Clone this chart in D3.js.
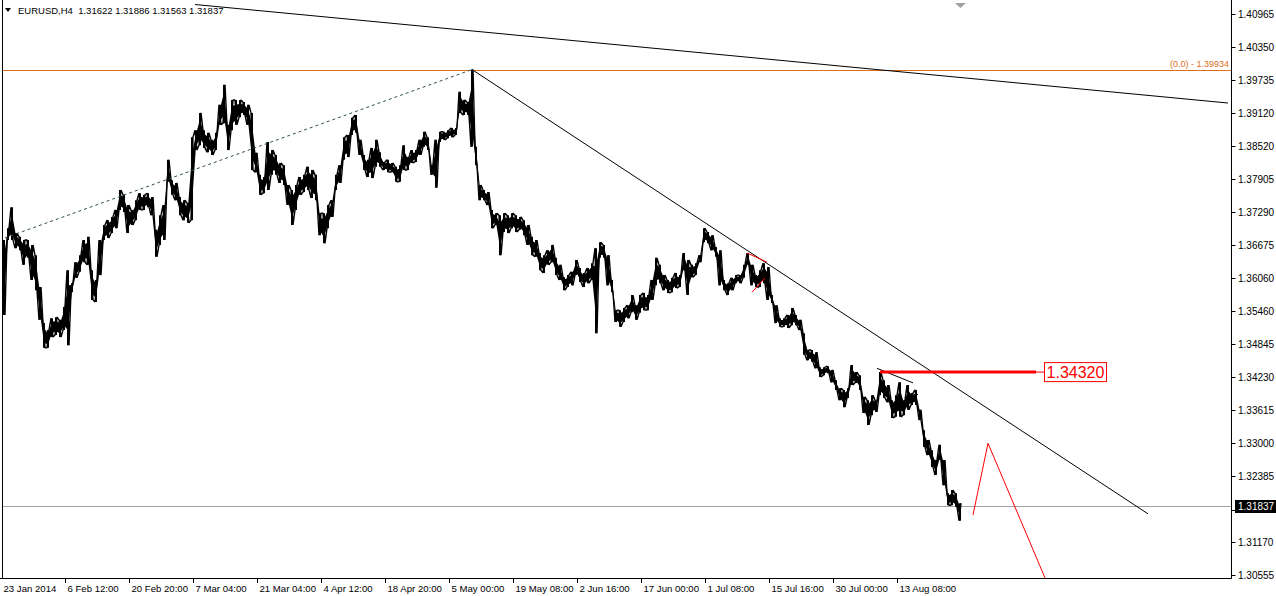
<!DOCTYPE html>
<html><head><meta charset="utf-8">
<script src="https://cdn.jsdelivr.net/npm/d3@7"></script>
<style>
body{margin:0;background:#fff;overflow:hidden}
svg{display:block}
text{font-family:"Liberation Sans",Arial,sans-serif}
</style>
</head><body><svg id="c" width="1276" height="596"></svg>
<script>
// ---------- data ----------
const symbol = "EURUSD,H4";
const lastOHLC = [1.31622, 1.31886, 1.31563, 1.31837];
const lastPrice = 1.31837;

// sampled H4 bar ranges (every 4th bar), high and low
const barHigh = [1.3677,1.3699,1.3738,1.3690,1.3683,1.3677,1.3677,1.3668,1.3649,1.3590,
1.3523,1.3510,1.3532,1.3534,1.3529,1.3553,1.3621,1.3597,1.3636,1.3649,
1.3677,1.3683,1.3621,1.3603,1.3677,1.3705,1.3714,1.3720,1.3733,1.3770,
1.3761,1.3742,1.3733,1.3751,1.3764,1.3761,1.3764,1.3757,1.3696,1.3723,
1.3742,1.3826,1.3788,1.3783,1.3757,1.3751,1.3746,1.3868,1.3881,1.3913,
1.3881,1.3876,1.3863,1.3876,1.3928,1.3965,1.3891,1.3937,1.3937,1.3937,
1.3933,1.3928,1.3913,1.3839,1.3798,1.3794,1.3859,1.3844,1.3835,1.3820,
1.3816,1.3779,1.3770,1.3779,1.3794,1.3798,1.3813,1.3807,1.3798,1.3727,
1.3727,1.3742,1.3751,1.3798,1.3816,1.3868,1.3872,1.3904,1.3909,1.3863,
1.3835,1.3826,1.3848,1.3863,1.3840,1.3822,1.3826,1.3820,1.3813,1.3816,
1.3853,1.3831,1.3844,1.3844,1.3863,1.3878,1.3868,1.3816,1.3863,1.3878,
1.3878,1.3881,1.3885,1.3885,1.3952,1.3937,1.3933,1.39934,1.3850,1.3779,
1.3770,1.3766,1.3733,1.3727,1.3723,1.3727,1.3723,1.3727,1.3723,1.3720,
1.3714,1.3705,1.3683,1.3677,1.3653,1.3649,1.3658,1.3668,1.3644,1.3631,
1.3608,1.3612,1.3618,1.3640,1.3625,1.3616,1.3625,1.3634,1.3662,1.3673,
1.3668,1.3649,1.3603,1.3547,1.3547,1.3551,1.3556,1.3575,1.3556,1.3575,
1.3579,1.3575,1.3603,1.3644,1.3631,1.3612,1.3603,1.3607,1.3616,1.3612,
1.3653,1.3640,1.3631,1.3634,1.3649,1.3699,1.3692,1.3686,1.3664,1.3658,
1.3603,1.3597,1.3607,1.3612,1.3612,1.3631,1.3653,1.3631,1.3612,1.3621,
1.3634,1.3627,1.3575,1.3556,1.3532,1.3532,1.3538,1.3551,1.3538,1.3529,
1.3504,1.3473,1.3473,1.3469,1.3441,1.3441,1.3443,1.3436,1.3417,1.3402,
1.3399,1.3402,1.3445,1.3432,1.3426,1.3386,1.3380,1.3389,1.3380,1.3432,
1.3417,1.3408,1.3380,1.3389,1.3413,1.3380,1.3408,1.3393,1.3399,1.3362,
1.3324,1.3306,1.3287,1.3269,1.3297,1.3269,1.3207,1.3213,1.3207,1.31886];

const barLow = [1.3538,1.3677,1.3677,1.3662,1.3658,1.3631,1.3644,1.3603,1.3584,1.3529,
1.3477,1.3477,1.3497,1.3501,1.3497,1.3510,1.3482,1.3580,1.3607,1.3618,
1.3636,1.3631,1.3566,1.3562,1.3612,1.3677,1.3681,1.3690,1.3699,1.3733,
1.3729,1.3690,1.3705,1.3714,1.3733,1.3733,1.3738,1.3723,1.3646,1.3668,
1.3677,1.3785,1.3761,1.3751,1.3723,1.3714,1.3709,1.3714,1.3844,1.3853,
1.3848,1.3840,1.3835,1.3844,1.3891,1.3894,1.3844,1.3881,1.3891,1.3905,
1.3909,1.3891,1.3807,1.3803,1.3761,1.3764,1.3770,1.3798,1.3798,1.3783,
1.3779,1.3742,1.3705,1.3733,1.3761,1.3766,1.3770,1.3755,1.3751,1.3686,
1.3671,1.3699,1.3720,1.3770,1.3783,1.3826,1.3831,1.3872,1.3876,1.3835,
1.3807,1.3794,1.3792,1.3813,1.3813,1.3807,1.3803,1.3803,1.3785,1.3785,
1.3807,1.3807,1.3820,1.3822,1.3835,1.3850,1.3844,1.3798,1.3774,1.3859,
1.3863,1.3866,1.3868,1.3872,1.3913,1.3909,1.3909,1.3850,1.3816,1.3751,
1.3751,1.3742,1.3699,1.3705,1.3649,1.3692,1.3690,1.3699,1.3692,1.3696,
1.3686,1.3668,1.3649,1.3646,1.3621,1.3616,1.3631,1.3636,1.3612,1.3603,
1.3584,1.3590,1.3593,1.3612,1.3599,1.3590,1.3597,1.3603,1.3504,1.3644,
1.3644,1.3593,1.3580,1.3525,1.3516,1.3525,1.3532,1.3543,1.3529,1.3542,
1.3547,1.3547,1.3566,1.3593,1.3597,1.3584,1.3579,1.3580,1.3588,1.3590,
1.3621,1.3575,1.3608,1.3612,1.3636,1.3673,1.3671,1.3658,1.3646,1.3593,
1.3584,1.3575,1.3584,1.3597,1.3597,1.3607,1.3631,1.3593,1.3590,1.3590,
1.3597,1.3566,1.3560,1.3523,1.3516,1.3516,1.3514,1.3519,1.3519,1.3510,
1.3464,1.3454,1.3451,1.3439,1.3423,1.3426,1.3430,1.3413,1.3399,1.3380,
1.3367,1.3384,1.3408,1.3412,1.3399,1.3356,1.3334,1.3352,1.3358,1.3389,
1.3384,1.3376,1.3347,1.3349,1.3349,1.3352,1.3362,1.3371,1.3371,1.3343,
1.3293,1.3278,1.3256,1.3241,1.3269,1.3222,1.3185,1.3185,1.3182,1.31563];

const priceTicks = [1.40965,1.40350,1.39735,1.39120,1.38520,1.37905,1.37290,1.36675,1.36060,
1.35460,1.34845,1.34230,1.33615,1.33000,1.32385,1.31770,1.31170,1.30555];

const dateLabels = ["23 Jan 2014","6 Feb 12:00","20 Feb 20:00","7 Mar 04:00","21 Mar 04:00",
"4 Apr 12:00","18 Apr 20:00","5 May 00:00","19 May 08:00","2 Jun 16:00","17 Jun 00:00",
"1 Jul 08:00","15 Jul 16:00","30 Jul 00:00","13 Aug 08:00"];
const dateTickBars = [1,65,129,193,257,321,385,449,513,577,641,705,769,833,897];

// analysis objects: [bar, price]
const fiboLevel = 1.39934;
const levelLine = 1.34320;
const levelStartBar = 880, levelEndBar = 1036;
const dashedTrend = [[5,1.3681],[472,1.39934]];
const downTrend = [[472,1.39934],[1148,1.3169]];
const longTrend = [[195,1.41141],[1228,1.39313]];
const redWedgeTop = [[747,1.3653],[767,1.3636]];
const redWedgeBot = [[752,1.3580],[765,1.3607]];
const blackWedgeTop = [[877,1.3439],[913,1.3412]];
const blackWedgeBot = [[893,1.3362],[918,1.3391]];
const forecast = [[973,1.3167],[988,1.3300],[1045,1.3050]];

// ---------- layout ----------
const W = 1276, H = 596;
const plotL = 2, plotR = 1231, plotT = 1, plotB = 578;
const svg = d3.select("#c");
const x = d3.scaleLinear().domain([0, 1231]).range([0, 1231]);
const y = d3.scaleLinear().domain([1.30555, 1.40965]).range([575, 14]);

svg.append("rect").attr("width",W).attr("height",H).attr("fill","#fff");
svg.append("defs").append("clipPath").attr("id","clip")
  .append("rect").attr("x",plotL).attr("y",plotT).attr("width",plotR-plotL).attr("height",plotB-plotT);

const g = svg.append("g").attr("clip-path","url(#clip)");

// current price line
g.append("line").attr("x1",plotL).attr("x2",plotR).attr("y1",Math.round(y(lastPrice))+0.5).attr("y2",Math.round(y(lastPrice))+0.5)
  .attr("stroke","#a0a0a0").attr("stroke-width",1);

// fibo line
g.append("line").attr("x1",plotL).attr("x2",plotR).attr("y1",Math.round(y(fiboLevel))+0.5).attr("y2",Math.round(y(fiboLevel))+0.5)
  .attr("stroke","#dc6e1e").attr("stroke-width",1);
svg.append("text").attr("x",plotR-2).attr("y",y(fiboLevel)-3).attr("text-anchor","end")
  .attr("font-size",9).attr("fill","#dc6e1e").text("(0.0) - " + fiboLevel.toFixed(5));

const seg = (pts, stroke, w, dash) => {
  const p = g.append("path").attr("d", d3.line().x(d=>x(d[0])).y(d=>y(d[1]))(pts))
    .attr("fill","none").attr("stroke",stroke).attr("stroke-width",w);
  if (dash) p.attr("stroke-dasharray",dash);
  return p;
};

// price bars
const bars = barHigh.map((h,i)=>({bar:4+4*i, hi:h, lo:barLow[i]}));
// zigzag through alternating highs and lows gives the dense bar texture
const zig = [];
bars.forEach((d,i)=>{
  if (i%2===0){ zig.push([d.bar-1,d.hi]); zig.push([d.bar+1,d.lo]); }
  else { zig.push([d.bar-1,d.lo]); zig.push([d.bar+1,d.hi]); }
});
g.append("path").attr("d", d3.line().x(d=>x(d[0])).y(d=>y(d[1]))(zig))
  .attr("fill","none").attr("stroke","#000").attr("stroke-width",1.4).attr("stroke-linejoin","bevel");
g.append("path")
  .attr("d", d3.area().x(d=>x(d.bar)).y0(d=>y(d.lo)-(y(d.lo)-y(d.hi))*0.2).y1(d=>y(d.hi)+(y(d.lo)-y(d.hi))*0.2)(bars))
  .attr("fill","#000");
g.selectAll("line.bar").data(bars).join("line").attr("class","bar")
  .attr("x1",d=>x(d.bar)).attr("x2",d=>x(d.bar))
  .attr("y1",d=>y(d.hi)).attr("y2",d=>y(d.lo))
  .attr("stroke","#000").attr("stroke-width",2);

// trendlines
seg(dashedTrend, "#2f4f4f", 1, "3,3");
seg(downTrend, "#000", 1);
seg(longTrend, "#000", 1);
seg(redWedgeTop, "#ff0000", 1);
seg(redWedgeBot, "#ff0000", 1);
seg(blackWedgeTop, "#000", 1);
seg(blackWedgeBot, "#000", 1);
seg(forecast, "#ff0000", 1);

// red level line + label
g.append("line").attr("x1",x(levelStartBar)).attr("x2",x(levelEndBar))
  .attr("y1",y(levelLine)).attr("y2",y(levelLine)).attr("stroke","#ff0000").attr("stroke-width",3);
g.append("line").attr("x1",x(levelEndBar)).attr("x2",x(1045))
  .attr("y1",y(levelLine)).attr("y2",y(levelLine)).attr("stroke","#ff0000").attr("stroke-width",1);
svg.append("rect").attr("x",1044.5).attr("y",y(levelLine)-9.5).attr("width",62).attr("height",19)
  .attr("fill","#fff").attr("stroke","#ff0000").attr("stroke-width",1);
svg.append("text").attr("x",1075.5).attr("y",y(levelLine)+6).attr("text-anchor","middle")
  .attr("font-size",16).attr("fill","#ff0000").text(levelLine.toFixed(5));

// chart shift marker
svg.append("path").attr("d","M955,3L966,3L960.5,8Z").attr("fill","#a0a0a0");

// frame
svg.append("line").attr("x1",plotR+0.5).attr("x2",plotR+0.5).attr("y1",0).attr("y2",plotB+0.5).attr("stroke","#000");
svg.append("line").attr("x1",0).attr("x2",plotR+0.5).attr("y1",plotB+0.5).attr("y2",plotB+0.5).attr("stroke","#000");
svg.append("line").attr("x1",plotL+0.5).attr("x2",plotL+0.5).attr("y1",0).attr("y2",plotB).attr("stroke","#000");

// price axis (the label under the current-price box is covered, as in the terminal)
const ly = Math.round(y(lastPrice));
const pa = svg.append("g");
priceTicks.forEach(p=>{
  const yy = Math.round(y(p))+0.5;
  pa.append("line").attr("x1",plotR+0.5).attr("x2",plotR+4.5).attr("y1",yy).attr("y2",yy).attr("stroke","#000");
  if (Math.abs(yy-ly) > 10)
    pa.append("text").attr("x",plotR+7).attr("y",yy+3.5).attr("font-size",10).attr("fill","#000").text(p.toFixed(5));
});
// current price label
svg.append("rect").attr("x",plotR+4).attr("y",ly-6).attr("width",41).attr("height",13).attr("fill","#000");
svg.append("text").attr("x",plotR+7).attr("y",ly+4).attr("font-size",10).attr("fill","#fff").text(lastPrice.toFixed(5));

// date axis
dateLabels.forEach((lab,i)=>{
  const xx = Math.round(x(dateTickBars[i]))+0.5;
  if (i>0) svg.append("line").attr("x1",xx).attr("x2",xx).attr("y1",plotB).attr("y2",plotB+5).attr("stroke","#000");
  svg.append("text").attr("x",xx+2).attr("y",592).attr("font-size",9.6).attr("fill","#000").text(lab);
});

// header
svg.append("path").attr("d","M5,8L11,8L8,12Z").attr("fill","#000");
svg.append("text").attr("x",18).attr("y",14).attr("font-size",9.5).attr("fill","#000")
  .attr("xml:space","preserve").style("white-space","pre")
  .text(symbol + "  " + lastOHLC.map(v=>v.toFixed(5)).join(" "));
</script>
</body></html>
